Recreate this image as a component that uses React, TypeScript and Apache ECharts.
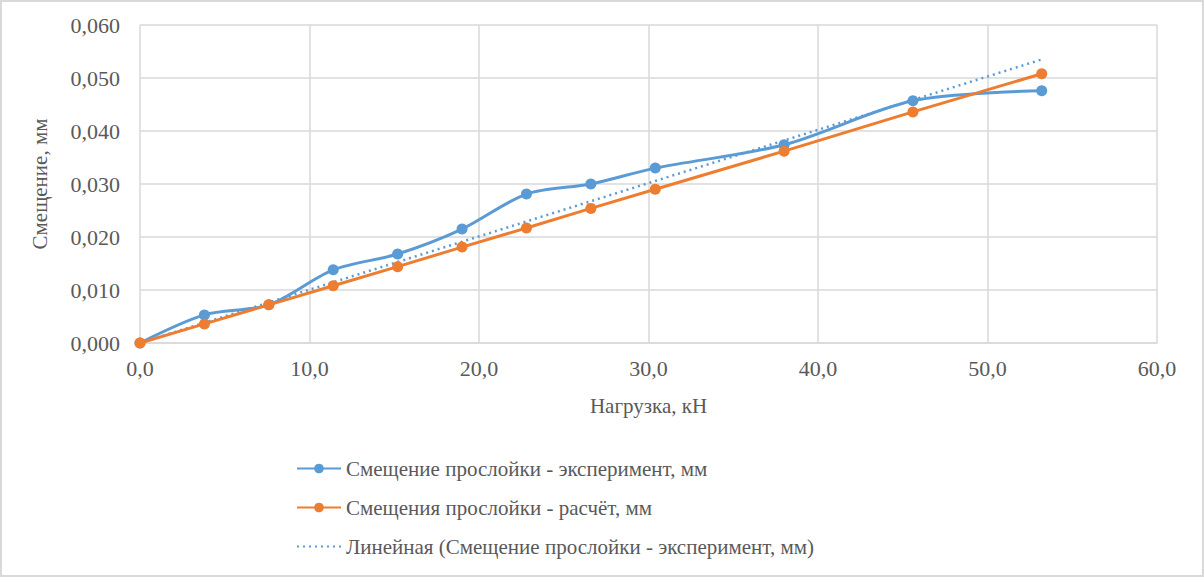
import React, { useEffect, useRef } from "react";
import * as echarts from "echarts";

const loads = [0, 3.8, 7.6, 11.4, 15.2, 19.0, 22.8, 26.6, 30.4, 38.0, 45.6, 53.2];
const experiment = [0, 0.0053, 0.0072, 0.0138, 0.0168, 0.0215, 0.0281, 0.03, 0.033, 0.0374, 0.0457, 0.0476];
const calculated = [0, 0.0036, 0.0072, 0.0108, 0.0144, 0.0181, 0.0217, 0.0254, 0.029, 0.0362, 0.0436, 0.0508];
const trendX = [0, 53.2];
const trendY = [0, 0.0535];

const seriesNames = [
  "Смещение прослойки - эксперимент, мм",
  "Смещения прослойки - расчёт, мм",
  "Линейная (Смещение прослойки - эксперимент, мм)",
];
const xTitle = "Нагрузка, кН";
const yTitle = "Смещение, мм";

const FONT = "Liberation Serif";
const TEXT = "#595959";
const GRID = "#d9d9d9";

export default function App() {
  const ref = useRef<HTMLDivElement>(null);
  useEffect(() => {
    document.body.style.margin = "0";
    const chart = echarts.init(ref.current!, null, { renderer: "svg" });
    chart.setOption({
      animation: false,
      backgroundColor: "#ffffff",
      textStyle: { fontFamily: FONT, color: TEXT },
      graphic: [
        {
          type: "rect",
          shape: { x: 1, y: 1, width: 1202, height: 575 },
          style: { fill: "none", stroke: GRID, lineWidth: 2 },
          silent: true,
        },
      ],
      grid: { left: 140, right: 47, top: 25, bottom: 234, containLabel: false },
      xAxis: {
        type: "value",
        min: 0,
        max: 60,
        interval: 10,
        name: xTitle,
        nameLocation: "middle",
        nameGap: 52,
        nameTextStyle: { fontFamily: FONT, fontSize: 21, color: TEXT },
        axisLine: { show: true, lineStyle: { color: GRID, width: 1.5 } },
        axisTick: { show: false },
        axisLabel: {
          fontFamily: FONT,
          fontSize: 22,
          color: TEXT,
          margin: 14,
          formatter: (v: number) => v.toFixed(1).replace(".", ","),
        },
        splitLine: { show: true, lineStyle: { color: GRID, width: 1.5 } },
      },
      yAxis: {
        type: "value",
        min: 0,
        max: 0.06,
        interval: 0.01,
        name: yTitle,
        nameLocation: "middle",
        nameGap: 90,
        nameTextStyle: { fontFamily: FONT, fontSize: 21, color: TEXT },
        axisLine: { show: false },
        axisTick: { show: false },
        axisLabel: {
          fontFamily: FONT,
          fontSize: 22,
          color: TEXT,
          margin: 20,
          formatter: (v: number) => v.toFixed(3).replace(".", ","),
        },
        splitLine: { show: true, lineStyle: { color: GRID, width: 1.5 } },
      },
      legend: {
        orient: "vertical",
        left: 291,
        top: 453,
        itemWidth: 44,
        itemHeight: 12,
        itemGap: 18,
        textStyle: { fontFamily: FONT, fontSize: 21, color: TEXT },
        data: [
          { name: seriesNames[0] },
          { name: seriesNames[1] },
          { name: seriesNames[2], itemStyle: { opacity: 0 } },
        ],
      },
      series: [
        {
          name: seriesNames[0],
          type: "line",
          smooth: 0.3,
          data: loads.map((x, i) => [x, experiment[i]]),
          symbol: "circle",
          symbolSize: 11,
          itemStyle: { color: "#5b9bd5" },
          lineStyle: { color: "#5b9bd5", width: 3 },
          z: 3,
        },
        {
          name: seriesNames[1],
          type: "line",
          data: loads.map((x, i) => [x, calculated[i]]),
          symbol: "circle",
          symbolSize: 11,
          itemStyle: { color: "#ed7d31" },
          lineStyle: { color: "#ed7d31", width: 3 },
          z: 4,
        },
        {
          name: seriesNames[2],
          type: "line",
          data: trendX.map((x, i) => [x, trendY[i]]),
          symbol: "none",
          itemStyle: { color: "#5b9bd5" },
          lineStyle: { color: "#5b9bd5", width: 2.5, type: [2, 4] },
          z: 2,
        },
      ],
    });
    return () => chart.dispose();
  }, []);
  return <div ref={ref} style={{ width: 1204, height: 577 }} />;
}
